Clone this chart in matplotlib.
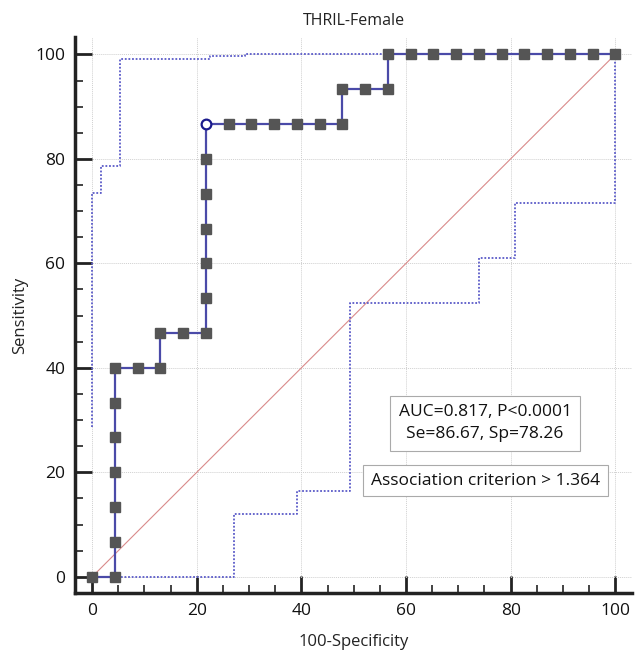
import numpy as np
import matplotlib
matplotlib.use("Agg")
import matplotlib.pyplot as plt
from matplotlib.ticker import MultipleLocator

plt.rcParams['font.family'] = ['Open Sans', 'DejaVu Sans']

# ROC curve points (100-Specificity, Sensitivity)
fpr = [0, 4.35, 4.35, 4.35, 4.35, 4.35, 4.35, 4.35, 8.70, 13.04, 13.04, 17.39,
       21.74, 21.74, 21.74, 21.74, 21.74, 21.74, 21.74,
       26.09, 30.43, 34.78, 39.13, 43.48, 47.83, 47.83, 52.17, 56.52, 56.52,
       60.87, 65.22, 69.57, 73.91, 78.26, 82.61, 86.96, 91.30, 95.65, 100]
tpr = [0, 0, 6.67, 13.33, 20, 26.67, 33.33, 40, 40, 40, 46.67, 46.67,
       46.67, 53.33, 60, 66.67, 73.33, 80, 86.67,
       86.67, 86.67, 86.67, 86.67, 86.67, 86.67, 93.33, 93.33, 93.33, 100,
       100, 100, 100, 100, 100, 100, 100, 100, 100, 100]

# criterion point
crit_x, crit_y = 21.74, 86.67

# 95% confidence bounds (step lines)
upper_x = [0, 0, 1.7, 1.7, 5.35, 5.35, 22.6, 22.6, 29.3, 29.3, 100]
upper_y = [28.7, 73.4, 73.4, 78.7, 78.7, 99.2, 99.2, 99.7, 99.7, 100, 100]
lower_x = [0, 27.2, 27.2, 39.1, 39.1, 49.3, 49.3, 74.0, 74.0, 80.9, 80.9, 100, 100]
lower_y = [0, 0, 12.1, 12.1, 16.5, 16.5, 52.5, 52.5, 61.0, 61.0, 71.5, 71.5, 100]

fig = plt.figure(figsize=(6.4, 6.52), dpi=100)
ax = fig.add_axes([0.117, 0.0905, 0.8705, 0.8525])

ax.plot([0, 100], [0, 100], color='#d98a8a', lw=0.8, zorder=2)
ax.plot(upper_x, upper_y, color='#5a5ac8', lw=1.3, ls=(0, (1, 1)), zorder=3)
ax.plot(lower_x, lower_y, color='#5a5ac8', lw=1.3, ls=(0, (1, 1)), zorder=3)

is_crit = [(x == crit_x and y == crit_y) for x, y in zip(fpr, tpr)]
ax.plot(fpr, tpr, color='#4a4aa8', lw=1.6, zorder=4)
ax.plot([x for x, c in zip(fpr, is_crit) if not c],
        [y for y, c in zip(tpr, is_crit) if not c],
        ls='none', marker='s', ms=7.5, mfc='#555555', mec='#555555', zorder=5)
ax.plot([crit_x], [crit_y], ls='none', marker='o', ms=7, mfc='white',
        mec='#1a1a8c', mew=1.6, zorder=6)

ax.set_xlim(-3.3, 103.2)
ax.set_ylim(-3.1, 103.3)
ax.xaxis.set_major_locator(MultipleLocator(20))
ax.yaxis.set_major_locator(MultipleLocator(20))
ax.xaxis.set_minor_locator(MultipleLocator(5))
ax.yaxis.set_minor_locator(MultipleLocator(5))
ax.tick_params(which='major', direction='in', length=12, width=2, color='#222222',
               labelsize=12.5, pad=7, labelcolor='#111111')
ax.tick_params(which='minor', direction='in', length=6, width=1.2, color='#222222')
ax.tick_params(axis='x', which='both', bottom=True, top=False)
ax.tick_params(axis='y', which='both', left=True, right=False)
ax.grid(True, which='major', color='#d0d0d0', ls=(0, (1, 1)), lw=0.7)
ax.set_axisbelow(True)

for s in ['top', 'right']:
    ax.spines[s].set_visible(False)
for s in ['left', 'bottom']:
    ax.spines[s].set_linewidth(2.5)
    ax.spines[s].set_color('#222222')

ax.set_title('THRIL-Female', fontsize=11.5, color='#222222', pad=9)
ax.set_xlabel('100-Specificity', fontsize=12, color='#222222', labelpad=11)
ax.set_ylabel('Sensitivity', fontsize=12, color='#222222', labelpad=5)

box = dict(boxstyle='square,pad=0.5', fc='white', ec='#aaaaaa', lw=0.8)
ax.text(75.1, 29.4, 'AUC=0.817, P<0.0001\nSe=86.67, Sp=78.26', ha='center', va='center',
        fontsize=12.5, color='#111111', bbox=box, linespacing=1.5, zorder=7)
ax.text(75.2, 18.4, 'Association criterion > 1.364', ha='center', va='center',
        fontsize=12.5, color='#111111', bbox=dict(boxstyle='square,pad=0.45', fc='white',
                                                  ec='#aaaaaa', lw=0.8), zorder=7)

fig.savefig('out.png', dpi=100)
